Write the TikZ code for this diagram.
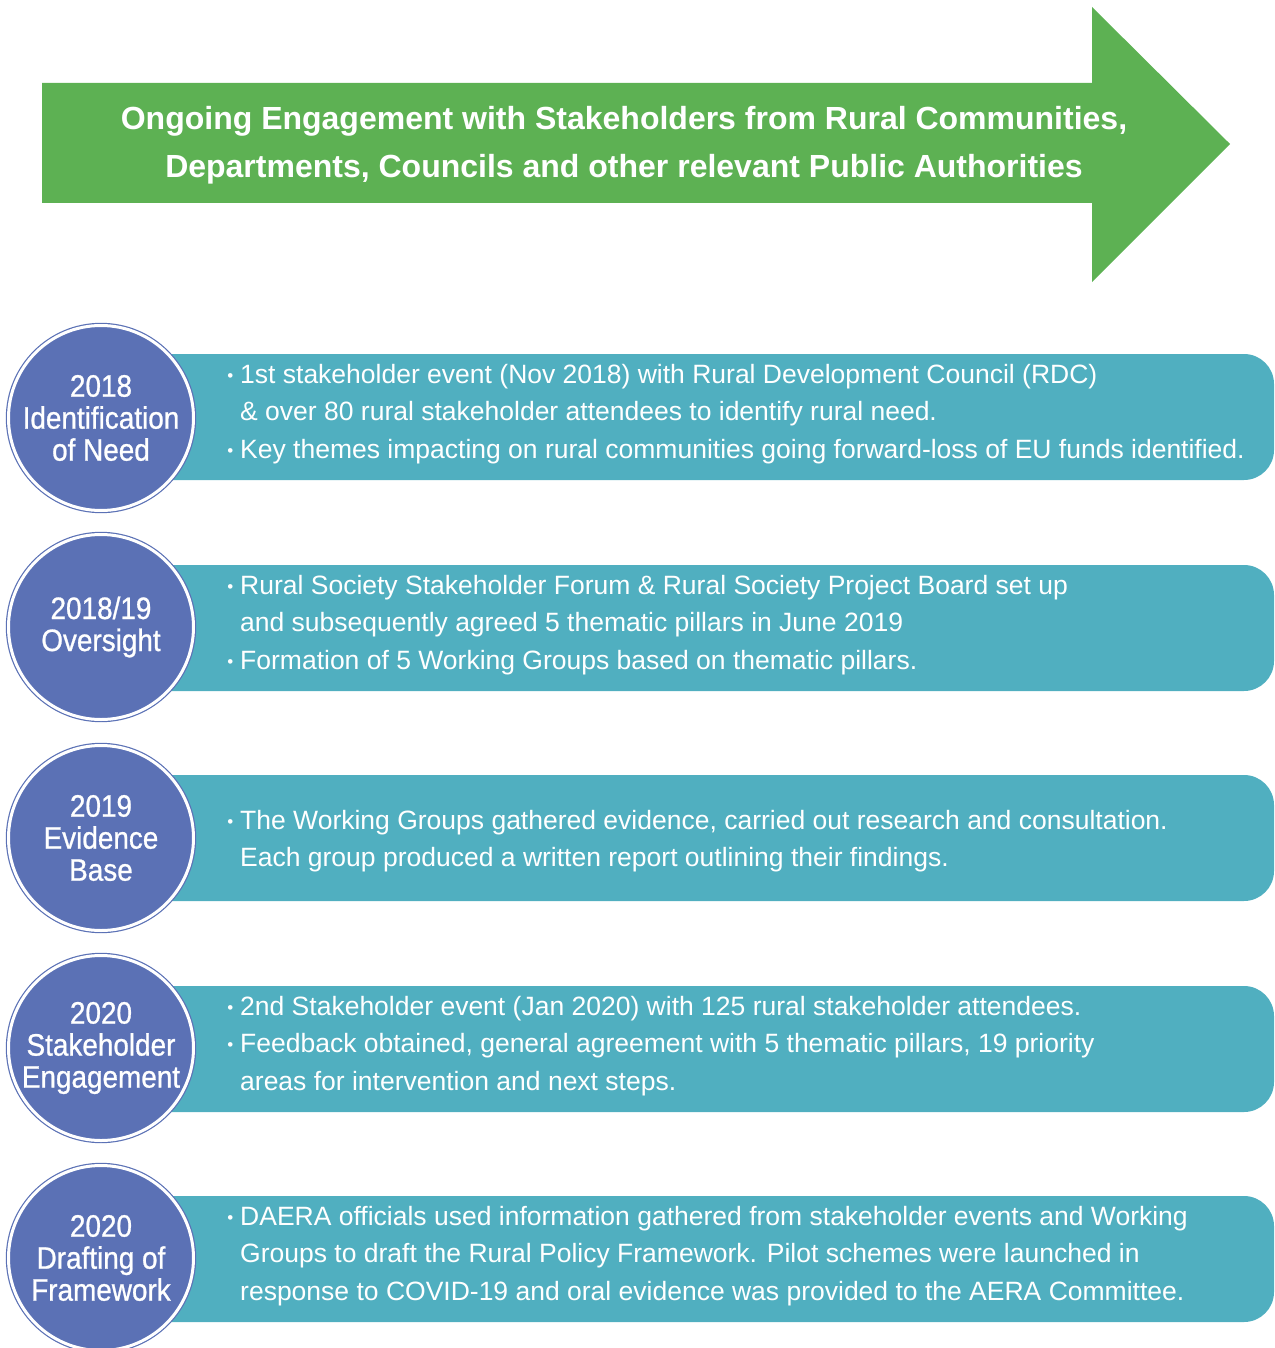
\documentclass[tikz,border=0pt]{standalone}
\usepackage{fontspec}
\setmainfont{Liberation Sans}
\newfontfamily\condfont[FakeStretch=0.9,FakeBold=0.8]{Liberation Sans}
\definecolor{arrgreen}{RGB}{93,177,83}
\definecolor{barteal}{RGB}{80,175,192}
\definecolor{circblue}{RGB}{91,113,181}
\newcommand{\bul}{\llap{{\fontsize{17}{17}\selectfont\raisebox{2pt}{•}}\hspace{7pt}}}
\tikzset{
  circnode/.style={circle, fill=circblue, draw=circblue, line width=1.2pt, double=white, double distance=3pt,
    minimum size=185pt, inner sep=0pt, align=center, text=white,
    font=\condfont\fontsize{31}{32}\selectfont},
  barfill/.style={fill=barteal},
  bartext/.style={anchor=west, align=left, text=white, inner sep=0pt,
    font=\fontsize{26.5}{37.5}\selectfont},
  headtext/.style={align=center, text=white, inner sep=0pt, font=\bfseries\fontsize{32}{48}\selectfont}
}
\newcommand{\tealbar}[1]{\fill[barfill] (150,#1) -- (1244,#1) arc[start angle=-90,end angle=0,radius=30] -- (1274,#1+96) arc[start angle=0,end angle=90,radius=30] -- (150,#1+126) -- cycle;}
\begin{document}
\begin{tikzpicture}[x=1pt,y=-1pt]
\useasboundingbox (0,0) rectangle (1274,1348);
% header arrow
\fill[arrgreen] (42,83) -- (1092,83) -- (1092,7) -- (1230,144) -- (1092,282) -- (1092,203) -- (42,203) -- cycle;
\node[headtext] (head) at (624,145) {Ongoing Engagement with Stakeholders from Rural Communities,\\Departments, Councils and other relevant Public Authorities};
% bars
\tealbar{354}
\tealbar{565}
\tealbar{775}
\tealbar{986}
\tealbar{1196}
% bar texts
\node[bartext] (b1) at (240,414) {\bul 1st stakeholder event (Nov 2018) with Rural Development Council (RDC)\\\& over 80 rural stakeholder attendees to identify rural need.\\\bul Key themes impacting on rural communities going forward-loss of EU funds identified.};
\node[bartext] (b2) at (240,625) {\bul Rural Society Stakeholder Forum \& Rural Society Project Board set up\\and subsequently agreed 5 thematic pillars in June 2019\\\bul Formation of 5 Working Groups based on thematic pillars.};
\node[bartext] (b3) at (240,841) {\bul The Working Groups gathered evidence, carried out research and consultation.\\Each group produced a written report outlining their findings.};
\node[bartext] (b4) at (240,1046) {\bul 2nd Stakeholder event (Jan 2020) with 125 rural stakeholder attendees.\\\bul Feedback obtained, general agreement with 5 thematic pillars, 19 priority\\areas for intervention and next steps.};
\node[bartext] (b5) at (240,1256) {\bul DAERA officials used information gathered from stakeholder events and Working\\Groups to draft the Rural Policy Framework. Pilot schemes were launched in\\response to COVID-19 and oral evidence was provided to the AERA Committee.};
% circles
\node[circnode] (c1) at (101,418) {2018\\Identification\\of Need};
\node[circnode] (c2) at (101,627) {2018/19\\Oversight};
\node[circnode] (c3) at (101,838) {2019\\Evidence\\Base};
\node[circnode] (c4) at (101,1048) {2020\\Stakeholder\\Engagement};
\node[circnode] (c5) at (101,1258) {2020\\Drafting of\\Framework};
\end{tikzpicture}
\end{document}
